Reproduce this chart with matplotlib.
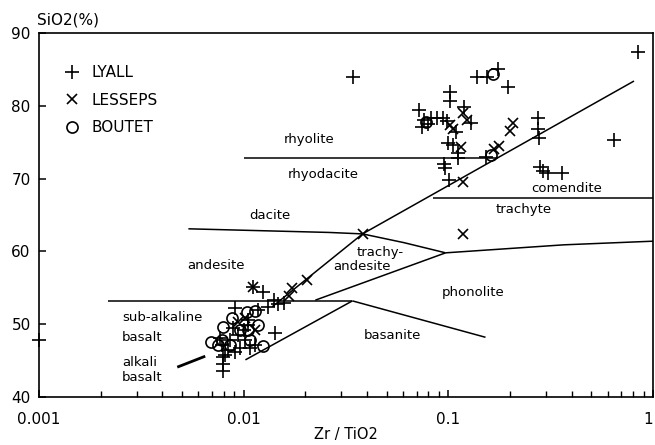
import matplotlib
matplotlib.use("Agg")
import matplotlib.pyplot as plt
from matplotlib.ticker import LogLocator, NullFormatter

plt.rcParams['font.family'] = ['DejaVu Sans']

# ---------------- data ----------------
lyall_x = [0.0344, 0.845, 0.138, 0.154, 0.175, 0.195, 0.1016, 0.1016, 0.0716, 0.0758,
           0.082, 0.0877, 0.0939, 0.0982, 0.0741, 0.0793, 0.109, 0.119, 0.129, 0.0993,
           0.105, 0.112, 0.111, 0.0949, 0.096, 0.1004, 0.152, 0.274, 0.274, 0.277,
           0.645, 0.280, 0.290, 0.307, 0.359,
           0.001, 0.0091, 0.0117, 0.0111, 0.0124, 0.0140, 0.0148, 0.0158, 0.0132, 0.0143,
           0.0105, 0.0100, 0.00942, 0.00861, 0.00787, 0.00841, 0.0091, 0.00813, 0.00796,
           0.00796, 0.00796, 0.00963, 0.0108, 0.0114, 0.0102, 0.00891, 0.00769, 0.0105]
lyall_y = [84.0, 87.4, 84.0, 84.0, 85.05, 82.6, 81.9, 80.7, 79.4, 78.0,
           78.3, 78.3, 78.3, 77.9, 77.1, 77.5, 76.4, 79.8, 77.6, 74.9,
           74.6, 73.5, 72.8, 72.0, 71.5, 69.8, 73.0, 78.3, 76.8, 75.6,
           75.3, 71.6, 71.0, 70.8, 70.8,
           47.8, 52.2, 52.0, 55.1, 54.4, 53.3, 52.8, 52.9, 52.4, 48.8,
           49.9, 49.2, 48.5, 47.8, 47.1, 46.5, 46.2, 45.8, 45.5,
           44.5, 43.6, 46.7, 46.7, 47.1, 47.8, 49.5, 48.1, 50.6]

lesseps_x = [0.1016, 0.106, 0.118, 0.123, 0.115, 0.118, 0.167, 0.177, 0.200, 0.207,
             0.118, 0.0381, 0.0111, 0.0173, 0.0205, 0.0166, 0.00942, 0.0102, 0.0114]
lesseps_y = [77.4, 76.8, 79.0, 78.0, 74.3, 69.5, 74.1, 74.5, 76.5, 77.6,
             62.4, 62.4, 55.1, 55.0, 56.1, 53.9, 50.3, 50.9, 49.2]

boutet_x = [0.165, 0.0775, 0.161, 0.00695, 0.00796, 0.0088, 0.0104, 0.0114, 0.0118,
            0.00963, 0.00861, 0.00752, 0.0108, 0.0125, 0.00787, 0.0105]
boutet_y = [84.4, 77.8, 73.2, 47.6, 49.6, 50.9, 51.7, 51.8, 49.9,
            49.2, 47.1, 47.1, 47.8, 47.0, 47.8, 49.2]

# field boundaries (Zr/TiO2, SiO2)
b_rhyolite_x, b_rhyolite_y = [0.0100, 0.175], [72.8, 72.8]
b_diag_x, b_diag_y = [0.0138, 0.0381, 0.808], [52.4, 62.4, 83.4]
b_dacite_x, b_dacite_y = [0.00537, 0.0262, 0.0381, 0.0607, 0.097], [63.1, 62.6, 62.4, 61.2, 59.8]
b_trachyte_x, b_trachyte_y = [0.097, 0.367, 1.0], [59.8, 60.9, 61.4]
b_trachyand_x, b_trachyand_y = [0.0224, 0.097], [53.3, 59.8]
b_basalt_x, b_basalt_y = [0.00218, 0.034], [53.2, 53.2]
b_basanite_x, b_basanite_y = [0.034, 0.152], [53.2, 48.2]
b_alkali_x, b_alkali_y = [0.0102, 0.034], [45.1, 53.2]
b_dash_x, b_dash_y = [0.00474, 0.00649], [44.1, 45.6]
b_comendite_x, b_comendite_y = [0.084, 1.0], [67.3, 67.3]

field_names = ['rhyolite', 'rhyodacite', 'dacite', 'andesite', 'trachy-', 'andesite',
               'trachyte', 'comendite', 'phonolite', 'basanite']
field_x = [0.021, 0.0245, 0.0135, 0.00735, 0.0467, 0.0377, 0.234, 0.380, 0.1315, 0.0535]
field_y = [75.3, 70.6, 64.9, 58.1, 59.9, 57.9, 65.7, 68.7, 54.3, 48.4]

left_names = ['sub-alkaline', 'basalt', 'alkali', 'basalt']
left_x = [0.00255, 0.00255, 0.00255, 0.00255]
left_y = [50.9, 48.2, 44.7, 42.7]

xticks = [0.001, 0.01, 0.1, 1]
xtick_labels = ['0.001', '0.01', '0.1', '1']
yticks = [40, 50, 60, 70, 80, 90]

# ---------------- figure ----------------
fig = plt.figure(figsize=(6.55, 4.45), dpi=100)
ax = fig.add_axes([0.0595, 0.1079, 0.9374, 0.818])
ax.set_xscale('log')
ax.set_xlim(0.001, 1)
ax.set_ylim(40, 90)

lw = 1.1
for bx, by in [(b_rhyolite_x, b_rhyolite_y), (b_diag_x, b_diag_y), (b_dacite_x, b_dacite_y),
               (b_trachyte_x, b_trachyte_y), (b_trachyand_x, b_trachyand_y),
               (b_basalt_x, b_basalt_y), (b_basanite_x, b_basanite_y),
               (b_alkali_x, b_alkali_y), (b_comendite_x, b_comendite_y)]:
    ax.plot(bx, by, color='black', lw=lw, solid_capstyle='butt')
ax.plot(b_dash_x, b_dash_y, color='black', lw=2.0, solid_capstyle='butt')

ax.plot(lyall_x, lyall_y, ls='none', marker='+', ms=9.5, mew=1.2, color='black',
        label='LYALL', clip_on=False)
ax.plot(lesseps_x, lesseps_y, ls='none', marker='x', ms=7.5, mew=1.2, color='black',
        label='LESSEPS', clip_on=False)
ax.plot(boutet_x, boutet_y, ls='none', marker='o', ms=8, mew=1.2, mfc='none', color='black',
        label='BOUTET', clip_on=False)

for name, fx, fy in zip(field_names, field_x, field_y):
    ax.text(fx, fy, name, ha='center', va='center', fontsize=9.5)
for name, fx, fy in zip(left_names, left_x, left_y):
    ax.text(fx, fy, name, ha='left', va='center', fontsize=9.5)

ax.set_xticks(xticks)
ax.set_xticklabels(xtick_labels)
ax.get_xticklabels()[-1].set_horizontalalignment('right')
ax.xaxis.set_minor_locator(LogLocator(base=10, subs=[2, 3, 4, 5, 6, 7, 8, 9]))
ax.xaxis.set_minor_formatter(NullFormatter())
ax.set_yticks(yticks)
ax.tick_params(axis='both', which='major', direction='in', length=5, width=1.1,
               labelsize=11, colors='black')
ax.tick_params(axis='x', which='major', pad=11)
ax.tick_params(axis='y', which='major', pad=6)
ax.tick_params(axis='x', which='minor', direction='in', length=4, width=1.0)

for s in ax.spines.values():
    s.set_linewidth(1.2)
    s.set_color('black')

ax.set_xlabel('Zr / TiO2', fontsize=10.5, labelpad=0)
ax.set_ylabel('SiO2(%)', fontsize=11, rotation=0, ha='left', va='center')
ax.yaxis.set_label_coords(-0.003, 1.036)

ax.legend(loc='upper left', bbox_to_anchor=(0.0415, 0.912), frameon=False, fontsize=11,
          handlelength=1.0, handletextpad=0.8, labelspacing=0.82, borderpad=0,
          borderaxespad=0)

fig.savefig('out.png', dpi=100)
